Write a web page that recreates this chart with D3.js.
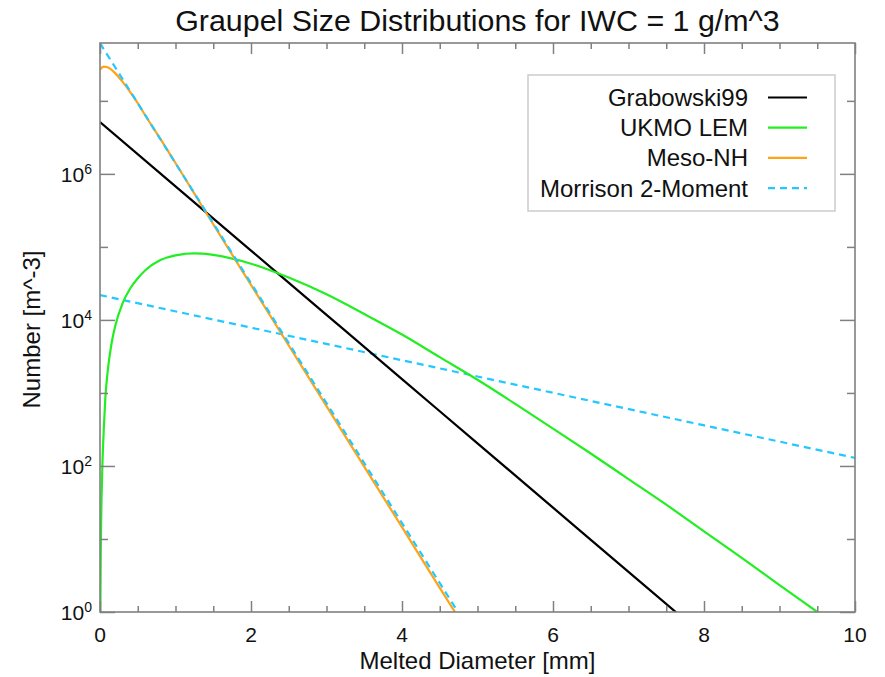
<!DOCTYPE html>
<html><head><meta charset="utf-8">
<script src="https://cdn.jsdelivr.net/npm/d3@7"></script>
<style>body{margin:0;background:#fff;} svg{display:block;} text{font-family:"Liberation Sans",Arial,Helvetica,sans-serif;fill:#111;}</style>
</head><body><svg id="chart" width="885" height="677"></svg>
<script>
// ---- data ----
const title = "Graupel Size Distributions for IWC = 1 g/m^3";
const xLabel = "Melted Diameter [mm]";
const yLabel = "Number [m^-3]";
const xDomain = [0, 10];
const yDomain = [1, 6.2e7];
const xMajorTicks = [0, 2, 4, 6, 8, 10];
const xMinorTicks = [0.5, 1, 1.5, 2.5, 3, 3.5, 4.5, 5, 5.5, 6.5, 7, 7.5, 8.5, 9, 9.5];
const yMajorExp = [0, 2, 4, 6];
const yMinorExp = [1, 3, 5, 7];

const grabowskiD = [0, 1, 2, 3, 4, 5, 6, 7, 8];
const grabowskiN = [5.13e6, 6.76e5, 8.91e4, 1.175e4, 1549, 204, 26.9, 3.55, 0.468];

const ukmoD = [0.003, 0.005, 0.01, 0.015, 0.02, 0.03, 0.05, 0.07, 0.1, 0.15, 0.2, 0.3, 0.4, 0.5, 0.6, 0.8, 1.0, 1.25, 1.5, 2.0, 2.5, 3.0, 3.5, 4.0, 4.5, 5.0, 5.5, 6.0, 6.5, 7.0, 7.5, 8.0, 8.5, 9.0, 9.5, 10];
const ukmoN = [0.32, 1.12, 6.17, 16.6, 33.9, 89.1, 316, 832, 1905, 4571, 8128, 16982, 26915, 37154, 47863, 66069, 76736, 81283, 77625, 58884, 38019, 22387, 12023, 6310, 3090, 1514, 708, 324, 148, 66.1, 29.5, 12.7, 5.50, 2.34, 1.0, 0.427];

const mesoD = [0, 0.05, 0.1, 0.2, 0.3, 0.4, 0.5, 0.6, 0.8, 1.0, 1.25, 1.5, 2.0, 2.5, 3.0, 3.5, 4.0, 4.5, 4.75];
const mesoN = [2.69e7, 2.95e7, 2.88e7, 2.40e7, 1.82e7, 1.32e7, 9.33e6, 6.31e6, 3.02e6, 1.41e6, 5.37e5, 2.04e5, 3.02e4, 4467, 661, 97.7, 14.5, 2.14, 0.83];

const morrisonSteepD = [0, 1, 2, 3, 4, 5];
const morrisonSteepN = [6.17e7, 1.40e6, 3.19e4, 726, 16.5, 0.376];
const morrisonShallowD = [0, 5, 10];
const morrisonShallowN = [2.19e4, 1679, 129];

const legendNames = ["Grabowski99", "UKMO LEM", "Meso-NH", "Morrison 2-Moment"];
const legendColors = ["#000000", "#22ee22", "#ffa318", "#22c8ff"];
const legendDash = [null, null, null, "7,5"];

// ---- layout ----
const svg = d3.select("#chart");
const L = 100, R = 855, T = 43, B = 612;
const x = d3.scaleLinear().domain(xDomain).range([L, R]);
const y = d3.scaleLog().domain(yDomain).range([B, T]);

svg.append("defs").append("clipPath").attr("id", "clip")
  .append("rect").attr("x", L).attr("y", T).attr("width", R - L).attr("height", B - T);

const axisColor = "#808080";

// series
const series = [
  {D: morrisonShallowD, N: morrisonShallowN, c: 3},
  {D: grabowskiD, N: grabowskiN, c: 0},
  {D: ukmoD, N: ukmoN, c: 1},
  {D: mesoD, N: mesoN, c: 2},
  {D: morrisonSteepD, N: morrisonSteepN, c: 3}
];
const line = d3.line().x(d => x(d[0])).y(d => y(Math.max(d[1], 1e-3))).curve(d3.curveMonotoneX);
const g = svg.append("g").attr("clip-path", "url(#clip)");
series.forEach(s => {
  g.append("path").datum(s.D.map((d, i) => [d, s.N[i]]))
    .attr("d", line).attr("fill", "none")
    .attr("stroke", legendColors[s.c]).attr("stroke-width", 2.2)
    .attr("stroke-dasharray", legendDash[s.c]);
});

// axes (box with ticks on all sides)
const mkX = (orient, ticks, len) => (orient === "bottom" ? d3.axisBottom(x) : d3.axisTop(x))
    .tickValues(ticks).tickSizeInner(-len).tickSizeOuter(0).tickFormat("");
const mkY = (orient, ticks, len) => (orient === "left" ? d3.axisLeft(y) : d3.axisRight(y))
    .tickValues(ticks).tickSizeInner(-len).tickSizeOuter(0).tickFormat("");
const axes = svg.append("g");
axes.append("g").attr("transform", `translate(0,${B})`).call(mkX("bottom", xMinorTicks, 6));
axes.append("g").attr("transform", `translate(0,${B})`).call(mkX("bottom", xMajorTicks, 11));
axes.append("g").attr("transform", `translate(0,${T})`).call(mkX("top", xMinorTicks, 6));
axes.append("g").attr("transform", `translate(0,${T})`).call(mkX("top", xMajorTicks, 11));
const yMaj = yMajorExp.map(e => Math.pow(10, e));
const yMin = yMinorExp.map(e => Math.pow(10, e));
axes.append("g").attr("transform", `translate(${L},0)`).call(mkY("left", yMin, 8));
axes.append("g").attr("transform", `translate(${L},0)`).call(mkY("left", yMaj, 15));
axes.append("g").attr("transform", `translate(${R},0)`).call(mkY("right", yMin, 8));
axes.append("g").attr("transform", `translate(${R},0)`).call(mkY("right", yMaj, 15));
axes.selectAll(".domain").remove();
axes.selectAll(".tick line").attr("stroke", axisColor).attr("stroke-width", 1.5);
// frame
svg.append("rect").attr("x", L).attr("y", T).attr("width", R - L).attr("height", B - T)
  .attr("fill", "none").attr("stroke", axisColor).attr("stroke-width", 1.6);

// tick labels
svg.append("g").selectAll("text").data(xMajorTicks).join("text")
  .attr("x", d => x(d)).attr("y", B + 30).attr("text-anchor", "middle")
  .attr("font-size", 21).text(d => d);
const yl = svg.append("g").selectAll("text").data(yMajorExp).join("text")
  .attr("x", L - 8).attr("y", d => y(Math.pow(10, d)) + 8).attr("text-anchor", "end")
  .attr("font-size", 21);
yl.append("tspan").text("10");
yl.append("tspan").attr("font-size", 14).attr("dy", -8).text(d => d);

// titles
svg.append("text").attr("x", (L + R) / 2).attr("y", 31).attr("text-anchor", "middle")
  .attr("font-size", 30.4).text(title);
svg.append("text").attr("x", (L + R) / 2).attr("y", 669).attr("text-anchor", "middle")
  .attr("font-size", 24).text(xLabel);
svg.append("text").attr("transform", `translate(40,${(T + B) / 2 + 2}) rotate(-90)`)
  .attr("text-anchor", "middle").attr("font-size", 24).text(yLabel);

// legend
const lg = svg.append("g");
lg.append("rect").attr("x", 528).attr("y", 75).attr("width", 307).attr("height", 136)
  .attr("fill", "#fff").attr("stroke", "#cccccc").attr("stroke-width", 1.5);
legendNames.forEach((n, i) => {
  const cy = 97.5 + i * 30.2;
  lg.append("text").attr("x", 748).attr("y", cy + 8.5).attr("text-anchor", "end")
    .attr("font-size", 24).text(n);
  lg.append("line").attr("x1", 768).attr("x2", 807).attr("y1", cy).attr("y2", cy)
    .attr("stroke", legendColors[i]).attr("stroke-width", 2.2)
    .attr("stroke-dasharray", legendDash[i]);
});
</script></body></html>
